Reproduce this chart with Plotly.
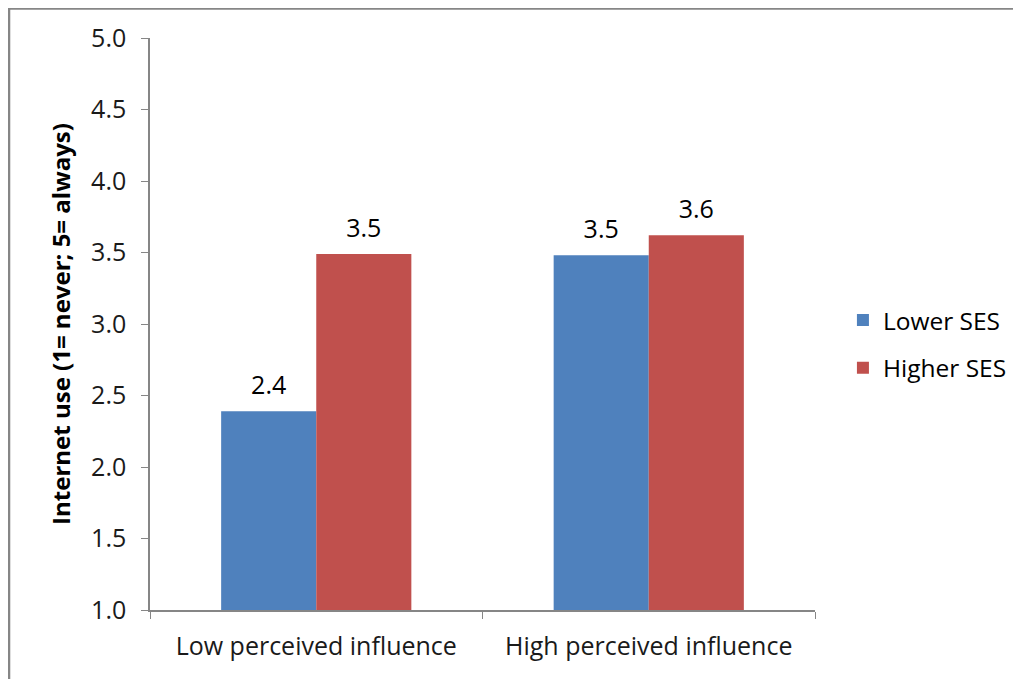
import plotly.graph_objects as go

categories = ["Low perceived influence", "High perceived influence"]
lower_ses = [2.39, 3.48]
higher_ses = [3.49, 3.62]
series_names = ["Lower SES", "Higher SES"]
colors = ["#4F81BD", "#C0504D"]
y_title = "Internet use (1= never; 5= always)"

FONT = "Open Sans"
FS = 25
fig = go.Figure()
for i, (name, vals) in enumerate(zip(series_names, [lower_ses, higher_ses])):
    fig.add_trace(go.Bar(
        x=categories, y=vals, name=name, offsetgroup=str(i),
        marker=dict(color=colors[i], line=dict(width=0)),
        legendgroup=name,
    ))
for i, (name, vals) in enumerate(zip(series_names, [lower_ses, higher_ses])):
    fig.add_trace(go.Scatter(
        x=categories, y=vals, offsetgroup=str(i), mode="markers+text",
        marker=dict(size=16, opacity=0), showlegend=False, hoverinfo="skip",
        text=[f"{v:.1f}" for v in vals], textposition="top center",
        textfont=dict(size=FS, color="#000000", family=FONT),
        cliponaxis=False,
    ))

fig.update_layout(
    width=1021, height=679,
    margin=dict(l=142, r=214, t=30, b=77),
    paper_bgcolor="white", plot_bgcolor="white",
    barmode="group", bargap=0.428, bargroupgap=0,
    scattermode="group", scattergap=0.428,
    font=dict(family=FONT, size=FS, color="#000000"),
    showlegend=True,
    legend=dict(x=1.042, y=0.465, xanchor="left", yanchor="middle",
                font=dict(size=24.5, family=FONT), tracegroupgap=13,
                bgcolor="rgba(0,0,0,0)"),
    xaxis=dict(showline=True, linecolor="#868686", linewidth=1.5,
               ticks="outside", tickson="boundaries", ticklen=7, tickcolor="#868686",
               showgrid=False, automargin=False, ticklabelstandoff=13,
               tickfont=dict(size=FS, family=FONT, color="#1a1a1a")),
    yaxis=dict(range=[1, 5], dtick=0.5, tick0=1, tickformat=".1f",
               showline=True, linecolor="#868686", linewidth=1.5,
               ticks="outside", ticklen=7, tickcolor="#868686",
               showgrid=False, zeroline=False, automargin=False,
               ticklabelstandoff=10,
               tickfont=dict(size=FS, family=FONT, color="#1a1a1a"),
               title=dict(text="<b>" + y_title + "</b>", standoff=14,
                          font=dict(size=24, family=FONT))),
    shapes=[dict(type="rect", xref="paper", yref="paper",
                 x0=-0.212, x1=1.4, y0=-0.2, y1=1.0516,
                 line=dict(color="#868686", width=2.5), fillcolor="rgba(0,0,0,0)",
                 layer="below")],
)

fig.write_html("out.html")
